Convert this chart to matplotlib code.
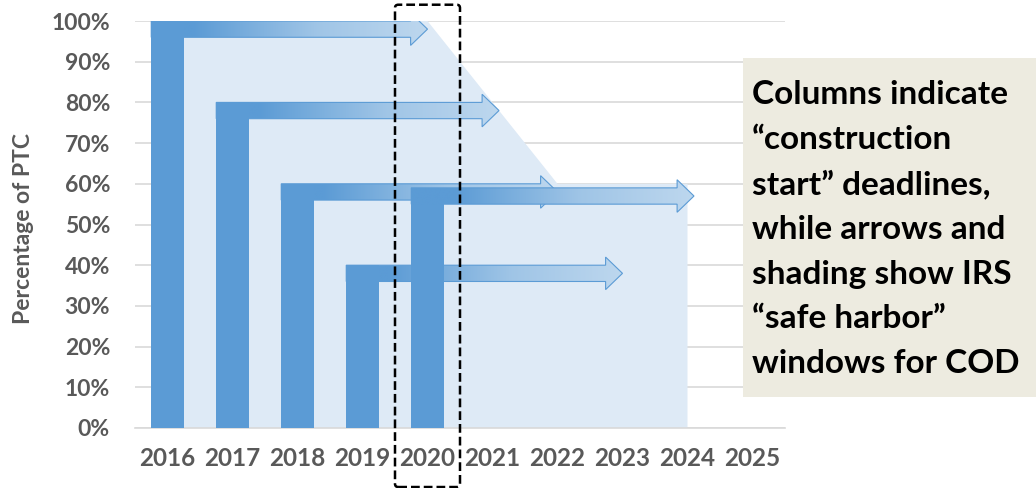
import numpy as np
import matplotlib
matplotlib.use("Agg")
import matplotlib.pyplot as plt
from matplotlib.patches import Polygon, Rectangle, FancyBboxPatch

# chart data
years = [2016, 2017, 2018, 2019, 2020, 2021, 2022, 2023, 2024, 2025]
bar_years = [2016, 2017, 2018, 2019, 2020]
bar_pct = [100, 80, 60, 40, 59]
arrow_end = [2020.0, 2021.1, 2022.0, 2023.0, 2024.1]   # arrow tips (year units)
shade_x = [2015.75, 2020.0, 2022.0, 2024.0, 2024.0, 2015.75]
shade_y = [100, 100, 60, 60, 0, 0]
yticks = [0, 10, 20, 30, 40, 50, 60, 70, 80, 90, 100]
note = ("Columns indicate\n\u201cconstruction\nstart\u201d deadlines,\n"
        "while arrows and\nshading show IRS\n\u201csafe harbor\u201d\nwindows for COD")

BLUE = "#5B9BD5"
LIGHT = "#BDD7EE"
SHADE = "#DEEAF6"
GREY = "#595959"
plt.rcParams["font.family"] = ["Lato", "DejaVu Sans"]
plt.rcParams["font.weight"] = "bold"


def gradient_arrow(ax, x0, x1, top, z):
    shaft = 4.0
    half = 4.0
    head = 0.26
    mid = top - shaft / 2
    xs = [x0, x1 - head, x1 - head, x1, x1 - head, x1 - head, x0]
    ys = [top, top, mid + half, mid, mid - half, top - shaft, top - shaft]
    poly = Polygon(list(zip(xs, ys)), closed=True, facecolor="none",
                   edgecolor=BLUE, lw=0.8, zorder=z + 0.1)
    ax.add_patch(poly)
    # colour ramp from solid blue to light blue
    t = np.linspace(0, 1, 256)
    c0 = np.array(matplotlib.colors.to_rgb(BLUE))
    c1 = np.array(matplotlib.colors.to_rgb(LIGHT))
    w = np.interp(t, [0, 0.15, 0.6, 1.0], [0, 0, 0.7, 1.0])
    img = (c0[None, :] * (1 - w[:, None]) + c1[None, :] * w[:, None])[None, :, :]
    im = ax.imshow(img, extent=[x0, x1, mid - half, mid + half],
                   aspect="auto", zorder=z, interpolation="bilinear")
    im.set_clip_path(poly)


fig = plt.figure(figsize=(10.36, 4.88), dpi=100)
ax = fig.add_axes([135 / 1036, 60 / 488, 650 / 1036, 407 / 488])

ax.fill(shade_x, shade_y, color=SHADE, lw=0, zorder=1)
ax.bar(bar_years, bar_pct, width=0.5, color=BLUE, zorder=3)
for i, (yr, pct, end) in enumerate(zip(bar_years, bar_pct, arrow_end)):
    z = 4 if i == len(bar_years) - 1 else 2
    gradient_arrow(ax, yr - 0.25, end, pct, z)

ax.set_xlim(2015.5, 2025.5)
ax.set_ylim(0, 100)
ax.set_xticks(years)
ax.set_xticklabels([str(y) for y in years], fontsize=17.5, color=GREY, fontweight="bold")
ax.set_yticks(yticks)
ax.set_yticklabels([f"{v}%" for v in yticks], fontsize=16.5, color=GREY, fontweight="bold")
ax.tick_params(axis="both", length=0)
ax.tick_params(axis="y", pad=18)
ax.tick_params(axis="x", pad=14)
ax.grid(axis="y", color="#D9D9D9", lw=1.2, zorder=0)
ax.set_axisbelow(True)
for s in ["top", "right", "left"]:
    ax.spines[s].set_visible(False)
ax.spines["bottom"].set_color("#D9D9D9")
ax.spines["bottom"].set_linewidth(1.2)
ax.set_ylabel("Percentage of PTC", fontsize=16.5, color=GREY, fontweight="bold")
ax.yaxis.set_label_coords(-101 / 650, 0.49)

# dashed highlight around 2020
box = FancyBboxPatch((2019.5, -14.5), 1.0, 118.5,
                     boxstyle="round,pad=0,rounding_size=0.05", mutation_aspect=16,
                     fill=False, ec="black", lw=1.8, ls=(0, (3.5, 1.6)),
                     clip_on=False, zorder=6)
ax.add_patch(box)

# note box
fig.patches.append(Rectangle((743 / 1036, 91 / 488), 293 / 1036, 339 / 488,
                             transform=fig.transFigure, facecolor="#EDEBE0",
                             edgecolor="none", zorder=5))
fig.text(752 / 1036, 1 - 80 / 488, note, fontsize=24, fontweight="bold",
         color="black", va="top", ha="left", linespacing=1.65, zorder=6)

fig.savefig("out.png", dpi=100)
